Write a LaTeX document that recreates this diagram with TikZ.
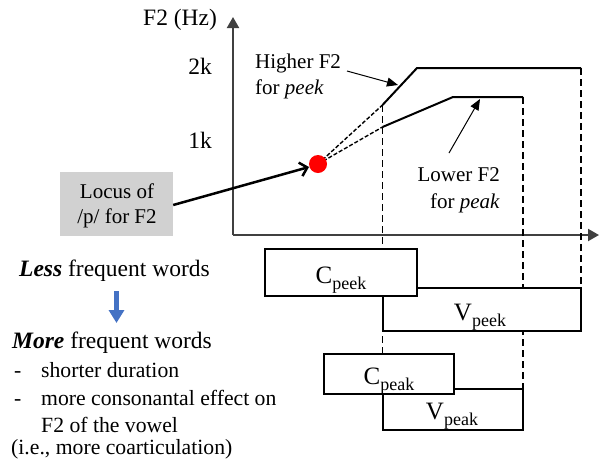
\documentclass[tikz,border=0pt]{standalone}
\usepackage{fontspec}
\setmainfont{Liberation Serif}
\usetikzlibrary{arrows.meta}
\definecolor{locusgray}{RGB}{209,209,209}
\definecolor{arrowblue}{RGB}{68,114,196}
\definecolor{axisgray}{RGB}{64,64,64}
\definecolor{dotred}{RGB}{255,0,0}
\newcommand\fsz[1]{\fontsize{#1}{#1}\selectfont}
\newcommand\lowsub[1]{\raisebox{-6.5pt}{\fsz{18}#1}}

\begin{document}
\begin{tikzpicture}[x=1pt,y=-1pt,
  axis/.style={draw=axisgray, line width=2pt, -{Triangle[length=11pt,width=12pt]}},
  trace/.style={line width=2pt, line join=miter},
  guide/.style={line width=1.6pt, dash pattern=on 7pt off 4pt},
  proj/.style={line width=1.4pt, dash pattern=on 4pt off 2pt},
  segbox/.style={draw, line width=2pt, fill=white, inner sep=0pt},
  txt/.style={inner sep=0pt, font=\fsz{23.5}},
  note/.style={inner sep=0pt, font=\fsz{21}},
  side/.style={inner sep=0pt, font=\fsz{21.7}},
  seglabel/.style={inner sep=0pt, anchor=base, font=\fsz{25}},
  pointer/.style={line width=1pt, -{Triangle[length=11pt,width=9pt]}}
]
\useasboundingbox (0,0) rectangle (604,459);

% axes
\coordinate (origin) at (233,235);
\coordinate (ytop) at (233,17);
\coordinate (xend) at (599,235);
\draw[axis] (origin) -- (ytop);
\draw[axis] (origin) -- (xend);
\node[txt, anchor=base west] (ylabel) at (143,25) {F2 (Hz)};
\node[txt, anchor=base east] (tick2k) at (212,74) {2k};
\node[txt, anchor=base east] (tick1k) at (212,148) {1k};

% F2 trajectories
\coordinate (locus) at (318,164);
\coordinate (hiA) at (382.5,105);
\coordinate (hiB) at (417,68);
\coordinate (hiC) at (581,68);
\coordinate (loA) at (382.5,127);
\coordinate (loB) at (453,97);
\coordinate (loC) at (523,97);

% boundaries between segments
\coordinate (b1) at (382.5,354);
\coordinate (b2) at (523,389);
\coordinate (b3) at (581,288);
\draw[guide] (hiA) -- (b1);
\draw[guide] (loC) -- (b2);
\draw[guide] (hiC) -- (b3);

\draw[proj] (locus) -- (hiA);
\draw[proj] (locus) -- (loA);
\draw[trace] (hiA) -- (hiB) -- (hiC);
\draw[trace] (loA) -- (loB) -- (loC);
\node[circle, fill=dotred, minimum size=18pt, inner sep=0pt] (dot) at (locus) {};

% segment durations
\node[segbox, minimum width=198.5pt, minimum height=43pt] (vpeek) at (481.75,309.5) {};
\node[segbox, minimum width=152pt, minimum height=47pt] (cpeek) at (341,272.5) {};
\node[segbox, minimum width=140.5pt, minimum height=41.5pt] (vpeak) at (452.75,409.25) {};
\node[segbox, minimum width=130.5pt, minimum height=40.5pt] (cpeak) at (388.75,373.75) {};
\node[seglabel] (cpeektxt) at (341,283) {C\lowsub{peek}};
\node[seglabel] (vpeektxt) at (480,320) {V\lowsub{peek}};
\node[seglabel] (cpeaktxt) at (389,384) {C\lowsub{peak}};
\node[seglabel] (vpeaktxt) at (452,419) {V\lowsub{peak}};

% annotations on the trajectories
\node[note, anchor=base west] (hi1) at (255,68) {Higher F2};
\node[note, anchor=base west] (hi2) at (255,94) {for \textit{peek}};
\node[note, anchor=base east] (lo1) at (500,181) {Lower F2};
\node[note, anchor=base east] (lo2) at (500,208) {for \textit{peak}};
\coordinate (hiFrom) at (347,71);
\coordinate (hiTo) at (398,85);
\coordinate (loFrom) at (449,153);
\coordinate (loTo) at (480,99);
\draw[pointer] (hiFrom) -- (hiTo);
\draw[pointer] (loFrom) -- (loTo);

% locus box
\node[fill=locusgray, minimum width=113pt, minimum height=64pt, inner sep=0pt] (locusbox) at (116.5,204) {};
\node[note, anchor=base] (locus1) at (117,198) {Locus of};
\node[note, anchor=base] (locus2) at (117,223) {/p/ for F2};
\coordinate (dotwest) at (309,167);
\draw[line width=2.5pt, -{Straight Barb[length=7pt,width=14pt]}] (locusbox.east |- 0,205) -- (dotwest);

% word frequency notes
\node[side, anchor=base west, font=\fsz{23.5}] (less) at (19,276) {\textbf{\textit{Less}} frequent words};
\coordinate (blueTop) at (116.5,291);
\coordinate (blueTip) at (116.5,323);
\draw[arrowblue, line width=5pt, -{Triangle[length=13pt,width=15pt]}] (blueTop) -- (blueTip);
\node[side, anchor=base west, font=\fsz{23.5}] (more) at (12,348) {\textbf{\textit{More}} frequent words};
\node[side, anchor=base west] (dash1) at (14,377) {-};
\node[side, anchor=base west] (pt1) at (41,377) {shorter duration};
\node[side, anchor=base west] (dash2) at (14,405) {-};
\node[side, anchor=base west] (pt2) at (41,405) {more consonantal effect on};
\node[side, anchor=base west] (pt3) at (41,432) {F2 of the vowel};
\node[side, anchor=base west] (pt4) at (11,454) {(i.e., more coarticulation)};
\end{tikzpicture}
\end{document}
